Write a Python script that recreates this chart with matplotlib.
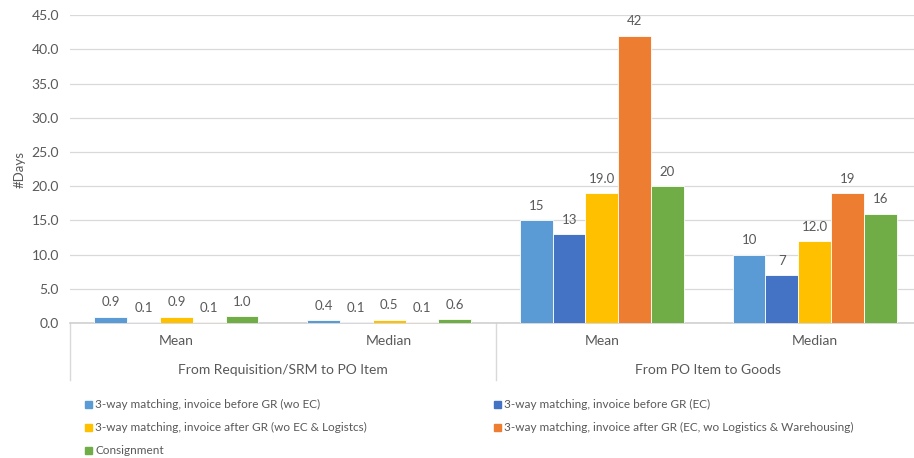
import matplotlib.pyplot as plt
import matplotlib.patches as mpatches
import numpy as np

plt.rcParams['font.family'] = ['Lato', 'DejaVu Sans']

# 데이터
stats = ['Mean', 'Median', 'Mean', 'Median']
stages = ['From Requisition/SRM to PO Item', 'From PO Item to Goods']
series = ['3-way matching, invoice before GR (wo EC)',
          '3-way matching, invoice before GR (EC)',
          '3-way matching, invoice after GR (wo EC & Logistcs)',
          '3-way matching, invoice after GR (EC, wo Logistics & Warehousing)',
          'Consignment']
before_wo_ec = [0.9, 0.4, 15, 10]
before_ec = [0.1, 0.1, 13, 7]
after_wo_ec = [0.9, 0.5, 19.0, 12.0]
after_ec = [0.1, 0.1, 42, 19]
consignment = [1.0, 0.6, 20, 16]
values = [before_wo_ec, before_ec, after_wo_ec, after_ec, consignment]
colors = ['#5B9BD5', '#4472C4', '#FFC000', '#ED7D31', '#70AD47']

txt = '#595959'
fig = plt.figure(figsize=(9.14, 4.58), dpi=100)
# 오른쪽 끝은 그림 밖으로 살짝 나감
ax = fig.add_axes([70/914, 0.2948, 851/914, 0.672])

x = np.arange(len(stats))
w = 0.154
for i, (vals, c) in enumerate(zip(values, colors)):
    pos = x + (i - 2) * w
    bars = ax.bar(pos, vals, w, color=c, edgecolor='white', linewidth=0.6, zorder=3)
    for b, v, g in zip(bars, vals, range(len(vals))):
        lab = f'{v:.1f}' if (g < 2 or i == 2) else f'{v:.0f}'
        ax.annotate(lab, (b.get_x() + b.get_width()/2, v), xytext=(0, 6),
                    textcoords='offset points', ha='center', va='bottom',
                    fontsize=9.5, color=txt)

ax.set_xlim(-0.5, 3.5)
ax.set_ylim(0, 45)
ax.set_yticks(np.arange(0, 46, 5))
ax.set_yticklabels([f'{t:.1f}' for t in np.arange(0, 46, 5)])
ax.tick_params(axis='y', length=0, labelsize=10, labelcolor=txt, pad=8)
ax.set_xticks([])
ax.grid(axis='y', color='#D9D9D9', linewidth=0.9, zorder=0)
for s in ['top', 'right', 'left']:
    ax.spines[s].set_visible(False)
ax.spines['bottom'].set_color('#D0D0D0')
ax.spines['bottom'].set_linewidth(1.2)
ax.set_ylabel('#Days', fontsize=9.5, color=txt, labelpad=4)

# 다단 카테고리 축
tr = ax.get_xaxis_transform()
for xv in [-0.5, 1.5, 3.5]:
    ax.plot([xv, xv], [0, -0.185], transform=tr, color='#D9D9D9',
            linewidth=1.0, clip_on=False)
for xv, s in zip(x, stats):
    ax.text(xv, -0.058, s, transform=tr, ha='center', va='center',
            fontsize=10, color=txt)
for j, s in enumerate(stages):
    ax.text(0.5 + 2*j, -0.153, s, transform=tr, ha='center', va='center',
            fontsize=10, color=txt)

# 범례
for i, (name, c) in enumerate(zip(series, colors)):
    px = 85 if i % 2 == 0 else 494
    py = 404 + 23 * (i // 2)
    fig.patches.append(mpatches.Rectangle((px/914, 1 - (py + 3.5)/458), 7/914, 7/458,
                                          transform=fig.transFigure, color=c))
    fig.text((px + 10)/914, 1 - py/458, name, ha='left', va='center',
             fontsize=8.5, color=txt)

fig.savefig('out.png', dpi=100)
